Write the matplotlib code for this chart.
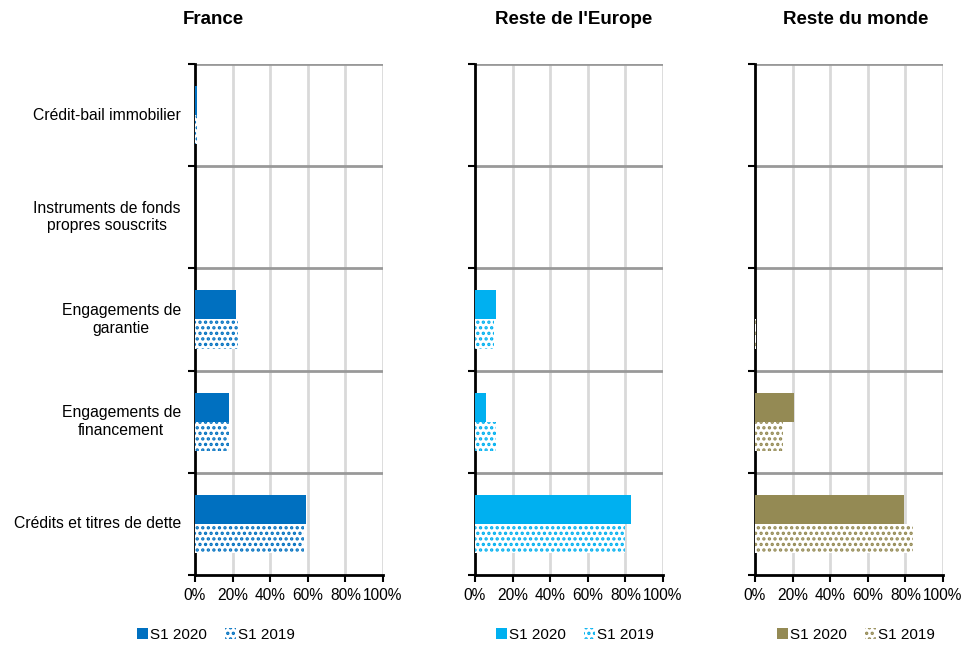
import matplotlib.pyplot as plt
from matplotlib.patches import Patch
import numpy as np

plt.rcParams['font.family'] = ['Liberation Sans', 'DejaVu Sans']
plt.rcParams['hatch.linewidth'] = 1.6

categories = ["Crédit-bail immobilier", "Instruments de fonds\npropres souscrits",
              "Engagements de\ngarantie", "Engagements de\nfinancement",
              "Crédits et titres de dette"]
regions = ["France", "Reste de l'Europe", "Reste du monde"]
colors = ["#0070C0", "#00B0F0", "#948A54"]

s1_2020 = {
    "France": [1.3, 0, 22, 18, 59],
    "Reste de l'Europe": [0, 0, 11, 6, 83],
    "Reste du monde": [0, 0, 0, 21, 79],
}
s1_2019 = {
    "France": [1.3, 0, 23, 18, 58],
    "Reste de l'Europe": [0, 0, 10, 11, 80],
    "Reste du monde": [0, 0, 0.6, 15, 84],
}
xticks = [0, 20, 40, 60, 80, 100]

fig = plt.figure(figsize=(9.66, 6.46), dpi=100)
lefts = [195 / 966, 475 / 966, 755 / 966]
title_x = [213 / 966, 574 / 966, 856 / 966]
legend_x = [216 / 966, 575 / 966, 856 / 966]
y = np.arange(len(categories))
h = 0.285

for k, reg in enumerate(regions):
    ax = fig.add_axes([lefts[k], 1 - 575 / 646, 188 / 966, 511 / 646])
    c = colors[k]
    ax.barh(y - h / 2, s1_2020[reg], height=h, color=c, linewidth=0, zorder=3)
    ax.barh(y + h / 2, s1_2019[reg], height=h, facecolor='white', edgecolor=c,
            hatch='...', linewidth=0, zorder=3)
    ax.set_xlim(0, 100)
    ax.set_ylim(len(categories) - 0.5, -0.5)
    ax.set_xticks(xticks)
    ax.set_xticklabels([f"{v}%" for v in xticks], fontsize=11.2)
    ax.set_yticks(np.arange(len(categories) + 1) - 0.5)
    ax.set_yticklabels([])
    ax.tick_params(axis='y', length=5, width=1.5, direction='out')
    ax.tick_params(axis='x', length=5, width=1.5, direction='out', pad=4)
    if k == 0:
        for i, cat in enumerate(categories):
            ax.text(-0.075, i, cat, transform=ax.get_yaxis_transform(),
                    ha='right', va='center', multialignment='center', fontsize=11.3)
    for v in xticks[1:]:
        ax.axvline(v, color='#D9D9D9', lw=2, zorder=1)
    for b in np.arange(len(categories)) - 0.5:
        ax.axhline(b, color='#999999', lw=2, zorder=2)
    for s in ['top', 'right']:
        ax.spines[s].set_visible(False)
    ax.spines['left'].set_linewidth(2)
    ax.spines['bottom'].set_linewidth(2)
    ax.spines['left'].set_zorder(2.5)
    fig.text(title_x[k], 1 - 20 / 646, reg, ha='center', va='center',
             fontsize=13.5, fontweight='bold')

    handles = [Patch(facecolor=c, linewidth=0, label="S1 2020"),
               Patch(facecolor='white', edgecolor=c, hatch='...', linewidth=0,
                     label="S1 2019")]
    fig.legend(handles=handles, loc='center', bbox_to_anchor=(legend_x[k], 0.017),
               ncol=2, frameon=False, fontsize=11, handlelength=0.7,
               handleheight=0.7, handletextpad=0.15, columnspacing=1.2)

fig.savefig("out.png", dpi=100)
